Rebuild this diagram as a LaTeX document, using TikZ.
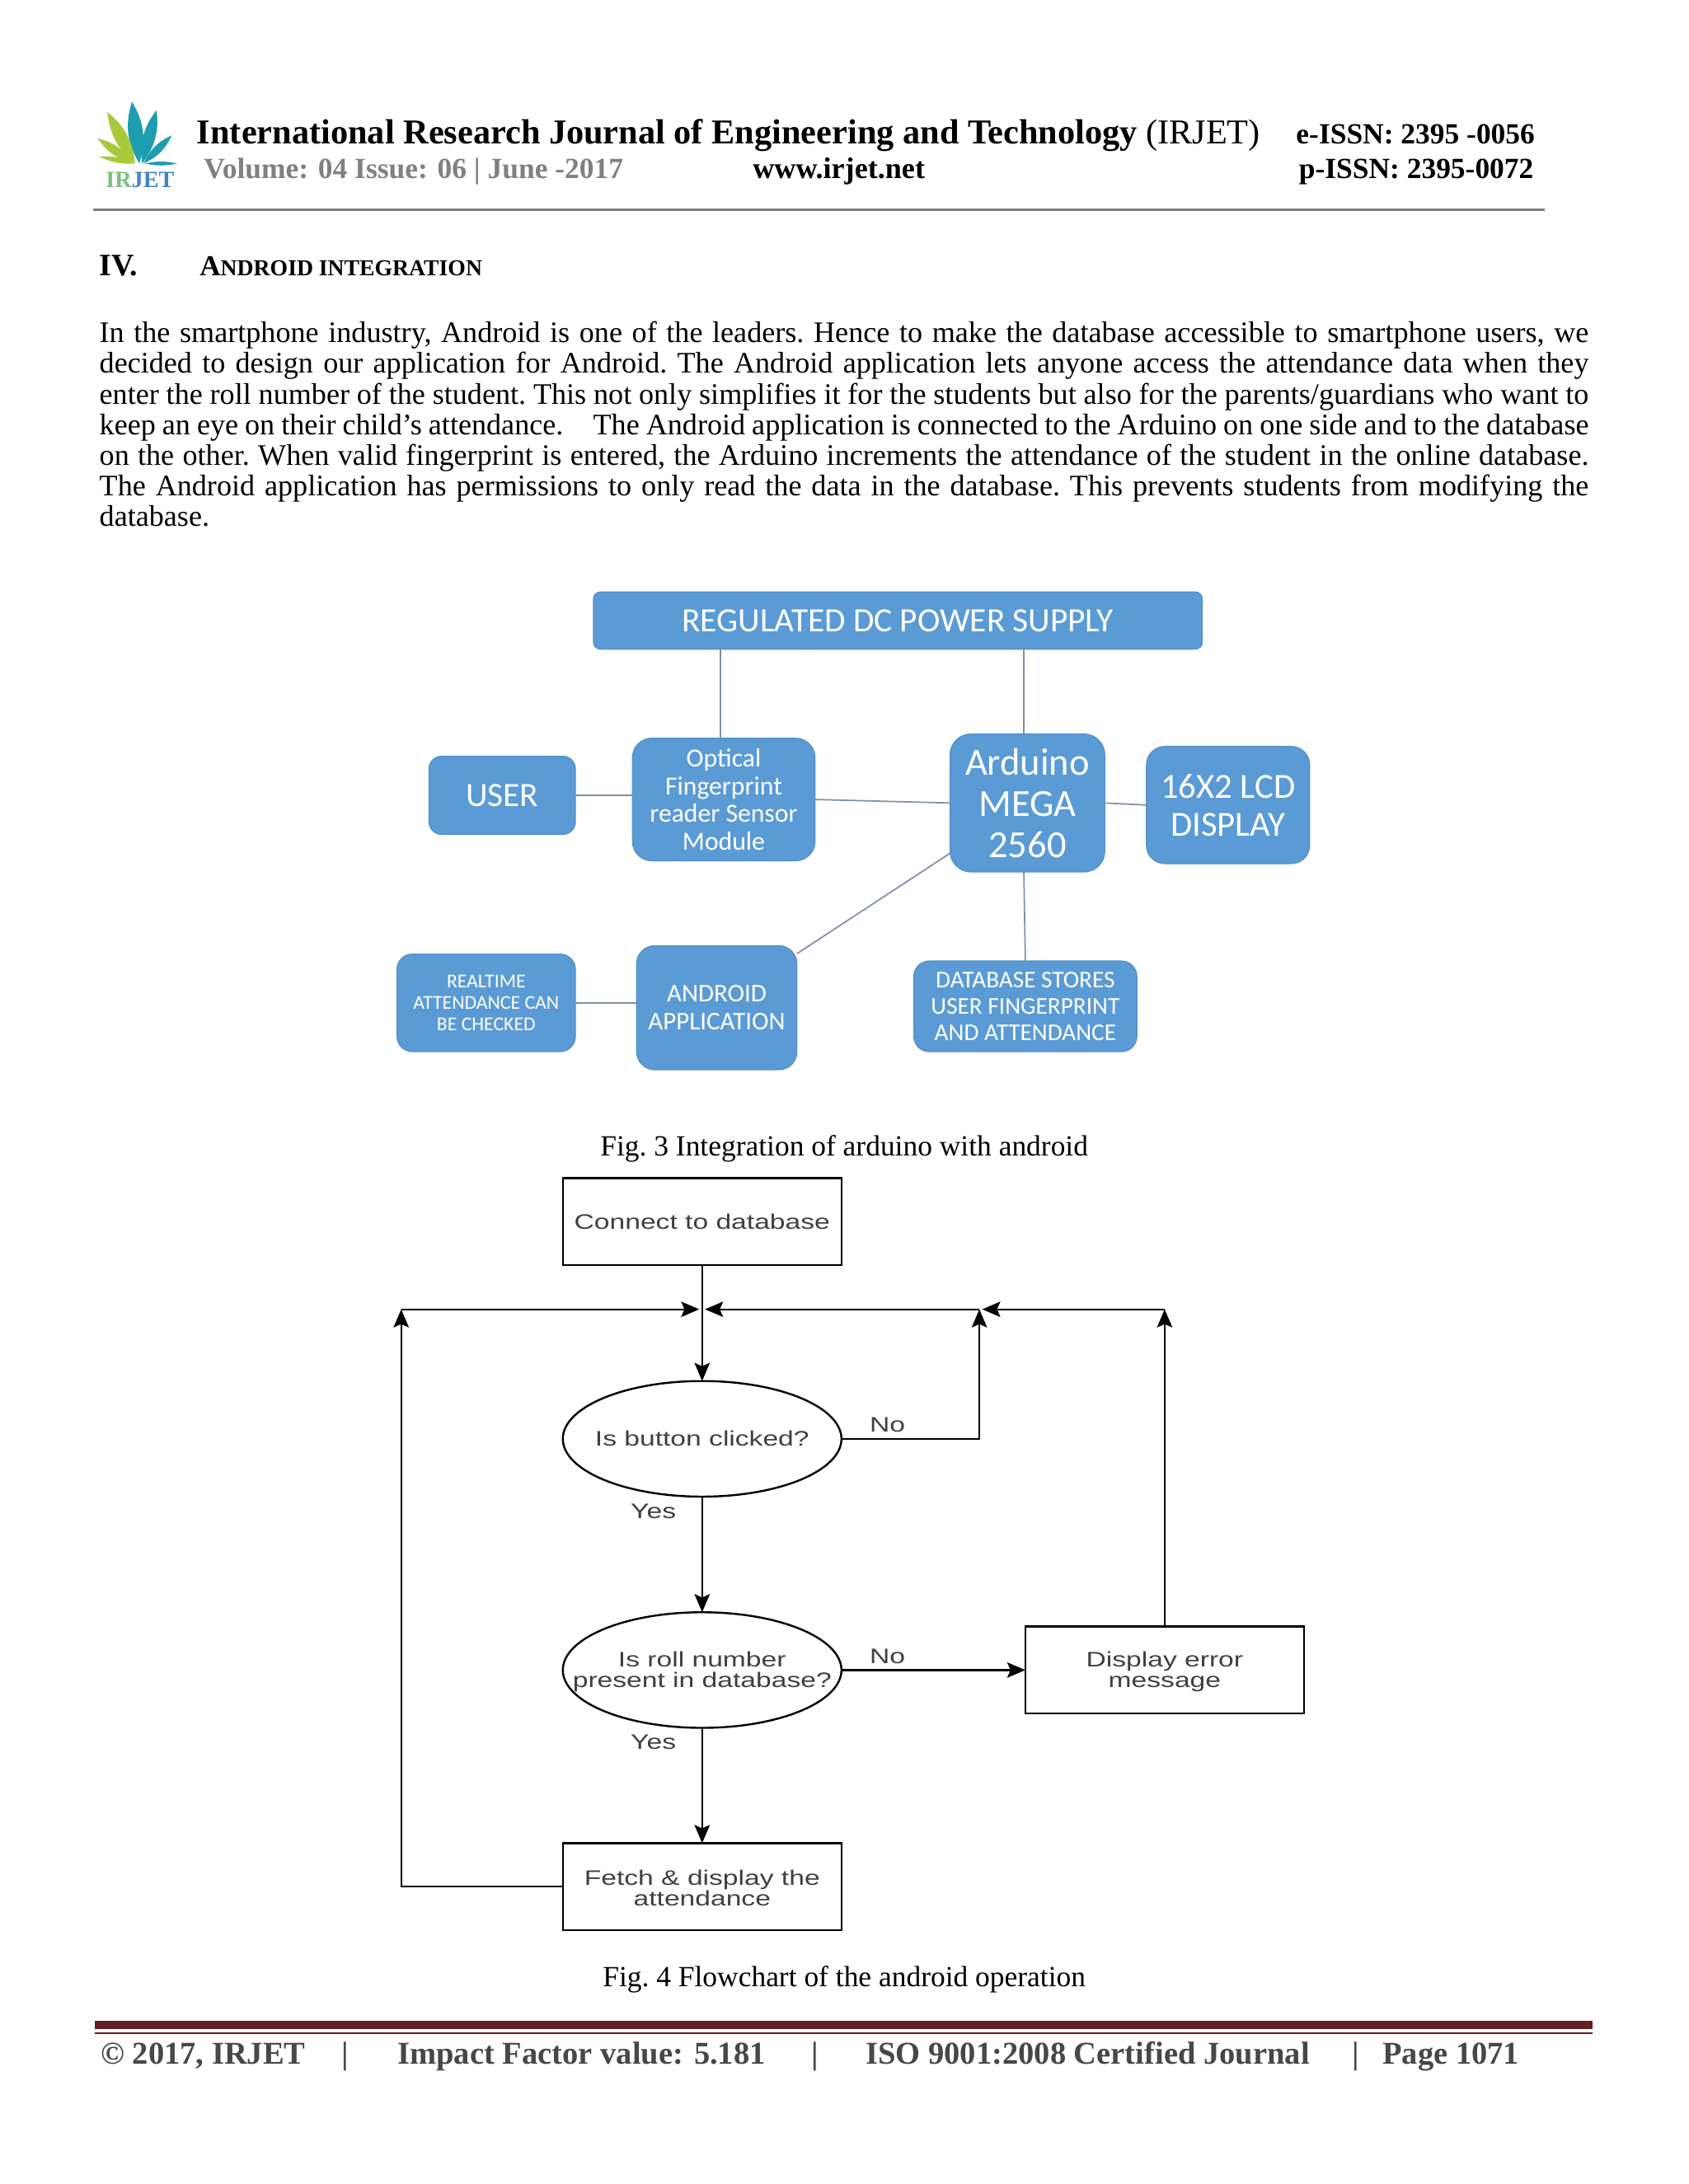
\documentclass[tikz,border=0pt]{standalone}
\usepackage{fontspec}
\usetikzlibrary{shapes.geometric}
\usetikzlibrary{arrows.meta}
\usetikzlibrary{calc,positioning}
\setmainfont{Liberation Serif}
\newfontfamily\blockfont{Carlito}
\newfontfamily\flowfont[FakeStretch=1.32]{Liberation Sans}
\definecolor{blockblue}{HTML}{5B9BD5}
\definecolor{blockedge}{HTML}{5592C8}
\definecolor{linkgrey}{HTML}{8090A4}
\definecolor{leafteal}{HTML}{1F9DB0}
\definecolor{leafgreen}{HTML}{A9C93C}
\definecolor{footred}{HTML}{632020}
\definecolor{logogreen}{HTML}{7FBF7B}
\definecolor{logoblue}{HTML}{3D85C6}
\def\unitLen{0.4911pt}
\def\flowtop{\rule{0pt}{6.4pt}}

\begin{document}
\begin{tikzpicture}[x=\unitLen,y=-\unitLen]
    \tikzstyle{block} = [draw=blockedge, fill=blockblue, text=white, align=center, inner sep=0pt, outer sep=0pt, line width=0.4pt]
    \tikzstyle{link} = [draw=linkgrey, line width=0.5pt]
    \tikzstyle{flowbox} = [draw, rectangle, line width=0.7pt, outer sep=0pt, inner sep=0pt, align=center, text=black!75, minimum width=200*\unitLen, minimum height=62.5*\unitLen, font=\flowfont\fontsize{7.4}{7.4}\selectfont]
    \tikzstyle{flowoval} = [flowbox, ellipse, inner sep=-30pt, minimum height=83*\unitLen]
    \tikzstyle{flowlabel} = [text=black!75, inner sep=0pt, font=\flowfont\fontsize{7.4}{7.4}\selectfont]
    \tikzstyle{line} = [draw, line width=0.7pt, -{Stealth[length=6.4pt,width=5.4pt,inset=1.2pt]}]
    \tikzstyle{thin line} = [line, line width=0.5pt, shorten >=1pt]
    \tikzstyle{head} = [anchor=base west, inner sep=0pt]
    \tikzstyle{caption} = [inner sep=0pt, font=\fontsize{10.3}{10.8}\selectfont\frenchspacing]
    \tikzstyle{foot} = [anchor=base west, inner sep=0pt, text=black!72, font=\fontsize{11.2}{11.2}\bfseries\selectfont]
    \tikzstyle{foot bar} = [foot, anchor=base]

    \useasboundingbox (0,0) rectangle (1212,1568);
    \fill[white] (0,0) rectangle (1212,1568);

    % logo
    \foreach \basex/\tipx/\tipy/\leafcol/\leafbend in {100/94.7/73/leafteal/24, 102/112.4/79/leafteal/22, 103/123.3/97.2/leafteal/20, 104/127.2/117.4/leafteal/12, 97/77/80.3/leafgreen/22, 96/70/99.2/leafgreen/20, 97/71/112.4/leafgreen/14}
        \fill[\leafcol] (\basex,117.4) to[bend left=\leafbend] (\tipx,\tipy) to[bend left=\leafbend] (\basex,117.4);
    \node[inner sep=0pt, font=\fontsize{8.2}{8.2}\bfseries\selectfont] (logoText) at (100.5,129) {\textcolor{logogreen}{IR}\textcolor{logoblue}{JET}};

    % header
    \node[head, font=\fontsize{12.3}{12.3}\selectfont] (journal) at (141,103.5) {\textbf{International Research Journal of Engineering and Technology} (IRJET)};
    \node[head, text=black!50, font=\fontsize{10.3}{10.3}\bfseries\selectfont] (volume) at (146,128) {Volume: 04 Issue: 06 | June -2017};
    \node[head, font=\fontsize{10.5}{10.5}\bfseries\selectfont] (website) at (540,128) {www.irjet.net};
    \node[head, font=\fontsize{10.3}{10.3}\bfseries\selectfont] (eissn) at (930,103.5) {e-ISSN: 2395 -0056};
    \node[head, font=\fontsize{10.3}{10.3}\bfseries\selectfont] (pissn) at (932,128) {p-ISSN: 2395-0072};
    \coordinate (ruleL) at (67,150.5);
    \coordinate (ruleR) at (1109,150.5);
    \draw[black!50, line width=0.9pt] (ruleL) -- (ruleR);

    \node[head, font=\fontsize{11}{11}\bfseries\selectfont] (secNum) at (71,198) {IV.};
    \node[head, font=\bfseries\selectfont] (secTitle) at (143,198) {\fontsize{10.2}{10.2}\selectfont A\fontsize{8.05}{8.05}\selectfont NDROID INTEGRATION};

    \node[anchor=north west, inner sep=0pt, text width=1069*\unitLen, align=justify, font=\fontsize{10.5}{10.8}\selectfont\frenchspacing] (bodyText) at (71,230.5) {%
        In the smartphone industry, Android is one of the leaders. Hence to make the database accessible to smartphone users, we\linebreak
        decided to design our application for Android. The Android application lets anyone access the attendance data when they\linebreak
        enter the roll number of the student. This not only simplifies it for the students but also for the parents/guardians who want to\linebreak
        keep an eye on their child's attendance.\quad The Android application is connected to the Arduino on one side and to the database\linebreak
        on the other. When valid fingerprint is entered, the Arduino increments the attendance of the student in the online database.\linebreak
        The Android application has permissions to only read the data in the database. This prevents students from modifying the\linebreak
        database.};

    % fig 3
    \node[block, rounded corners=5*\unitLen, minimum width=437*\unitLen, minimum height=41*\unitLen, font=\blockfont\fontsize{12}{13}\selectfont] (power) at (644.5,445.5) {REGULATED DC POWER SUPPLY};
    \node[block, rounded corners=9*\unitLen, minimum width=105*\unitLen, minimum height=56*\unitLen, font=\blockfont\fontsize{12}{13}\selectfont] (user) at (360.5,571) {USER};
    \node[block, rounded corners=14*\unitLen, minimum width=131*\unitLen, minimum height=88*\unitLen, font=\blockfont\fontsize{9.2}{9.8}\selectfont] (sensor) at (519.5,574) {Optical\\Fingerprint\\reader Sensor\\Module};
    \node[block, rounded corners=15*\unitLen, minimum width=111*\unitLen, minimum height=99*\unitLen, font=\blockfont\fontsize{13.5}{14.5}\selectfont] (arduino) at (737.5,576.5) {Arduino\\MEGA\\2560};
    \node[block, rounded corners=13*\unitLen, minimum width=117*\unitLen, minimum height=84*\unitLen, font=\blockfont\fontsize{12.4}{13.3}\selectfont] (lcd) at (881.5,578) {16X2 LCD\\DISPLAY};
    \node[block, rounded corners=11*\unitLen, minimum width=128*\unitLen, minimum height=70*\unitLen, font=\blockfont\fontsize{6.9}{7.6}\selectfont] (realtime) at (349,720) {REALTIME\\ATTENDANCE CAN\\BE CHECKED};
    \node[block, rounded corners=13*\unitLen, minimum width=115*\unitLen, minimum height=89*\unitLen, font=\blockfont\fontsize{9}{9.8}\selectfont] (android) at (514.5,723.5) {ANDROID\\APPLICATION};
    \node[block, rounded corners=11*\unitLen, minimum width=160*\unitLen, minimum height=65*\unitLen, font=\blockfont\fontsize{8.5}{9.3}\selectfont] (database) at (736,722.5) {DATABASE STORES\\USER FINGERPRINT\\AND ATTENDANCE};

    \path [link] (power.south -| sensor.93) -- (sensor.93);
    \path [link] (power.south -| arduino.93) -- (arduino.93);
    \path [link] (user.east) -- (user.east -| sensor.west);
    \path [link] (sensor.east) -- (arduino.west);
    \path [link] (arduino.east) -- (lcd.west);
    \path [link] (arduino.213) -- (android.34);
    \path [link] (arduino.267) -- (database.north);
    \path [link] (realtime.east) -- (realtime.east -| android.west);

    \node[caption] (fig3) at (606,824.5) {Fig. 3 Integration of arduino with android};

    % fig 4
    \node[flowbox] (connect) at (504,877) {Connect to database};
    \node[flowoval] (button) at (504,1033) {Is button clicked?};
    \node[flowoval] (roll) at (504,1199) {\flowtop Is roll number\\present in database?};
    \node[flowbox] (error) at (836,1199) {\flowtop Display error\\message};
    \node[flowbox] (fetch) at (504,1354.5) {\flowtop Fetch \& display the\\attendance};

    \coordinate (loopLeft) at (288,940);
    \coordinate (loopMid) at (504,940);
    \coordinate (loopNo) at (703,940);
    \coordinate (loopError) at (836,940);

    \path [line] (connect) -- (button);
    \path [line] (button) -- (roll);
    \path [line] (roll) -- (fetch);
    \path [line] (roll) -- (error);
    \path [line] (button.east) -| (loopNo);
    \path [line] (error) -- (loopError);
    \path [line] (fetch.west) -| (loopLeft);
    \path [thin line] (loopLeft) -- (loopMid);
    \path [thin line] (loopNo) -- (loopMid);
    \path [thin line] (loopError) -- (loopNo);

    \node[flowlabel] (noButton) at (637,1023) {No};
    \node[flowlabel] (yesButton) at (469,1085) {Yes};
    \node[flowlabel] (noRoll) at (637,1189) {No};
    \node[flowlabel] (yesRoll) at (469,1251) {Yes};

    \node[caption] (fig4) at (606,1421) {Fig. 4 Flowchart of the android operation};

    % footer
    \fill[footred] (68,1451) rectangle (1143,1457);
    \fill[footred] (68,1459) rectangle (1143,1460.5);
    \node[foot] (footA) at (72,1482) {\textcopyright{} 2017, IRJET};
    \node[foot bar] (footB) at (248,1482) {|};
    \node[foot] (footC) at (285,1482) {Impact Factor value: 5.181};
    \node[foot bar] (footD) at (585,1482) {|};
    \node[foot] (footE) at (621,1482) {ISO 9001:2008 Certified Journal};
    \node[foot bar] (footF) at (973,1482) {|};
    \node[foot] (footG) at (992,1482) {Page 1071};
\end{tikzpicture}
\end{document}
